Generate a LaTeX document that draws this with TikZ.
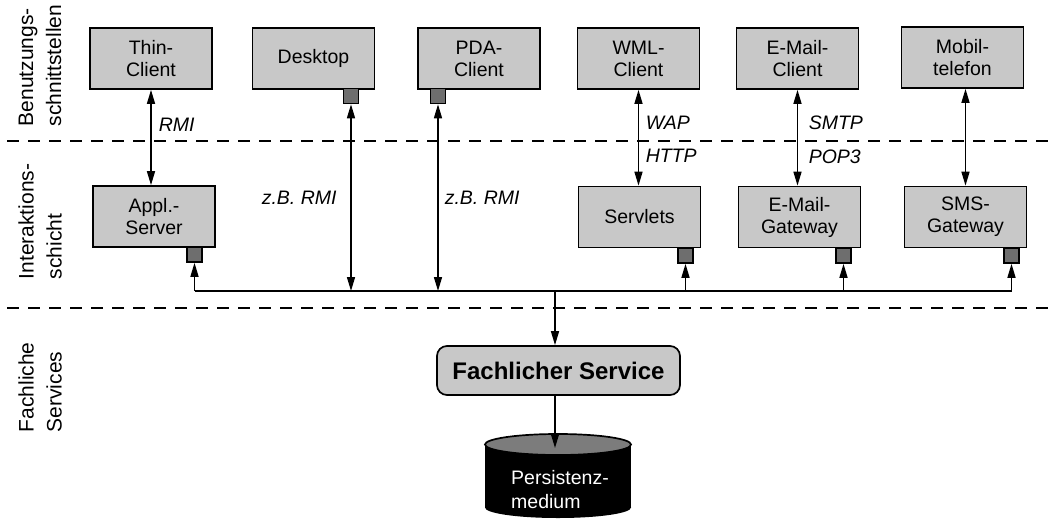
\documentclass[tikz,border=0pt]{standalone}
\usepackage{fontspec}
\setmainfont{Liberation Sans}
\usetikzlibrary{arrows.meta}
\definecolor{boxgray}{HTML}{C8C8C8}
\definecolor{portgray}{HTML}{6E6E6E}
\definecolor{endgray}{HTML}{7C7C7C}
\newcommand{\boxfont}{\fontsize{19.5}{22}\selectfont}
\newcommand{\protfont}{\fontsize{19.5}{22}\selectfont\itshape}
\newcommand{\layerfont}{\fontsize{21}{28}\selectfont}
\newcommand{\servfont}{\fontsize{24}{28}\selectfont\bfseries}
\tikzset{
  >={Triangle[length=14pt,width=8pt]},
  every path/.style={line width=1.5pt},
  compbox/.style={draw, fill=boxgray, line width=1.7pt, minimum width=122pt, minimum height=61pt, inner sep=0pt, align=center, font=\boxfont},
  port/.style={draw, fill=portgray, line width=1.6pt, minimum size=15pt, inner sep=0pt},
  proto/.style={anchor=west, inner sep=0pt, font=\protfont},
  layer/.style={rotate=90, anchor=west, align=left, inner sep=0pt, font=\layerfont},
  sep/.style={line width=1.4pt, dash pattern=on 12pt off 9pt},
}
\begin{document}
\begin{tikzpicture}[x=1pt,y=-1pt]
\useasboundingbox (0,0) rectangle (1053,520);

% layer labels
\node[layer] (l1) at (40,127) {Benutzungs-\\schnittstellen};
\node[layer] (l2) at (40,280) {Interaktions-\\schicht};
\node[layer] (l3) at (40,433) {Fachliche\\Services};

% separators
\coordinate (s1l) at (7,141);  \coordinate (s1r) at (1053,141);
\coordinate (s2l) at (7,308);  \coordinate (s2r) at (1053,308);
\draw[sep] (s1l) -- (s1r);
\draw[sep] (s2l) -- (s2r);

% top row
\node[compbox] (thin) at (151,58.5) {Thin-\\Client};
\node[compbox] (desk) at (313.5,58.5) {Desktop};
\node[compbox] (pda)  at (479,58.5) {PDA-\\Client};
\node[compbox] (wml)  at (638.5,58.5) {WML-\\Client};
\node[compbox] (emc)  at (797.5,58.5) {E-Mail-\\Client};
\node[compbox] (mob)  at (962.5,57.5) {Mobil-\\telefon};

% second row
\node[compbox] (appl) at (154,216.5) {Appl.-\\Server};
\node[compbox] (serv) at (639.5,217) {Servlets};
\node[compbox] (emgw) at (799.5,217) {E-Mail-\\Gateway};
\node[compbox] (sms)  at (965.5,217) {SMS-\\Gateway};

% ports
\node[port] (applp) at (194.5,254.5) {};
\node[port] (deskp) at (351,96) {};
\node[port] (pdap)  at (438,96) {};
\node[port] (servp) at (685.5,255.5) {};
\node[port] (emgwp) at (843.5,255.5) {};
\node[port] (smsp)  at (1011.5,255.5) {};

% client - server connections
\draw[<->] (thin.south) -- (thin.south |- appl.north);
\draw[<->] (wml.south) -- (wml.south |- serv.north);
\draw[<->] (emc.south) -- (emc.south |- emgw.north);
\draw[<->] (mob.south -| sms.north) -- (sms.north);

\node[proto] (rmi)  at (158,125) {RMI};
\node[proto] (wap)  at (645,123) {WAP};
\node[proto] (http) at (645,156) {HTTP};
\node[proto] (smtp) at (808,123) {SMTP};
\node[proto] (pop)  at (808,157) {POP3};
\node[proto] (zb1)  at (261,198) {z.B. RMI};
\node[proto] (zb2)  at (444,198) {z.B. RMI};

% bus
\coordinate (busL) at (194.5,291);
\coordinate (busR) at (1011.5,291);
\coordinate (busM) at (555,291);
\draw (busL) -- (busR);
\draw[->] (busL) -- (applp.south);
\draw[->] (servp.south |- busL) -- (servp.south);
\draw[->] (emgwp.south |- busL) -- (emgwp.south);
\draw[->] (busR) -- (smsp.south);
\draw[<->] (deskp.south) -- (deskp.south |- busL);
\draw[<->] (pdap.south) -- (pdap.south |- busL);

% service
\node[draw, fill=boxgray, line width=1.7pt, rounded corners=10pt, minimum width=243pt, minimum height=49pt, inner sep=0pt, font=\servfont] (svc) at (558.5,370.5) {Fachlicher Service};
\draw[->] (busM) -- (busM |- svc.north);

% persistence cylinder
\fill[black] (485,444.5) rectangle (631,507.5);
\fill[black] (558,507.5) ellipse [x radius=73, y radius=10.5];
\draw[fill=endgray, line width=1.7pt] (558,444.5) ellipse [x radius=73, y radius=10.5];
\node[text=white, align=left, inner sep=0pt, font=\fontsize{19.5}{24}\selectfont] (db) at (560,490) {Persistenz-\\medium};
\coordinate (dbtop) at (555,448);
\draw[->] (svc.south -| busM) -- (dbtop);
\end{tikzpicture}
\end{document}
